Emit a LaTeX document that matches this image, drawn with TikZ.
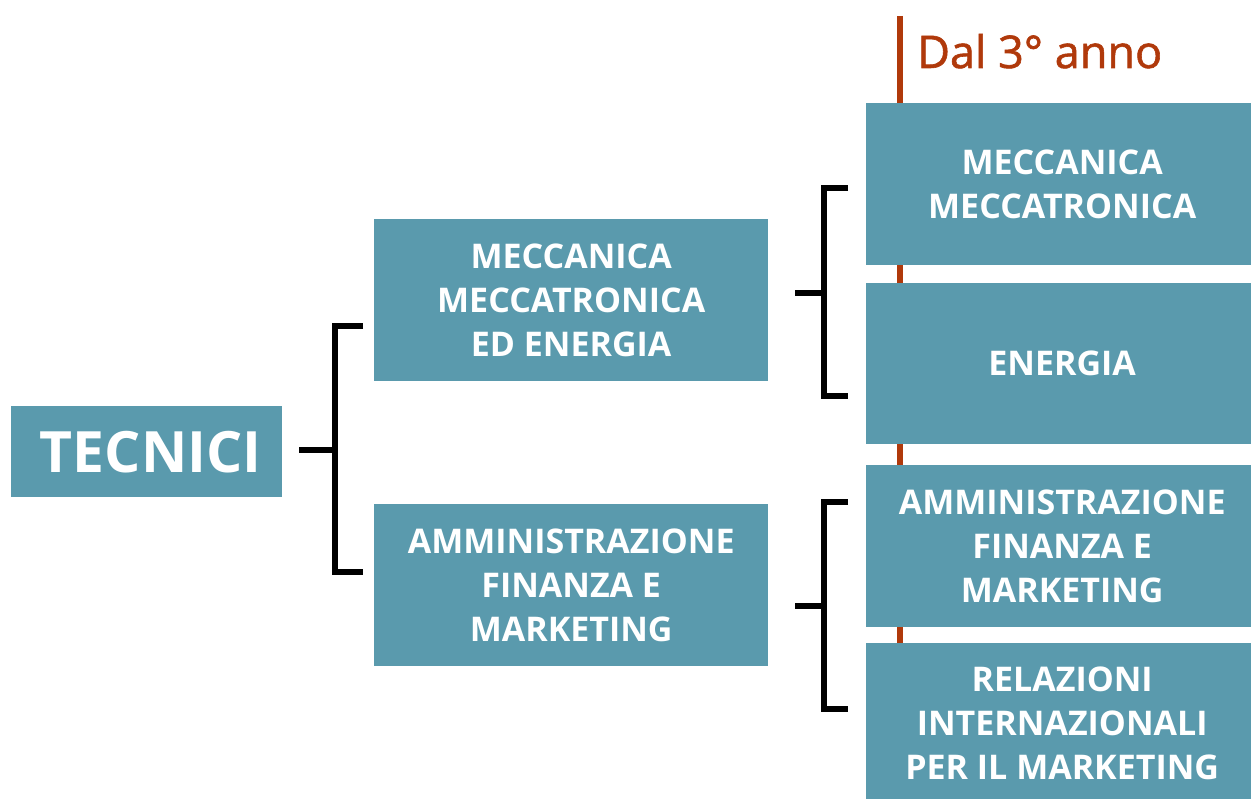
\documentclass[tikz,border=0pt]{standalone}
\usepackage{fontspec}
\setmainfont{Open Sans}
\newfontfamily\dalfont[FakeBold=1.3]{Open Sans}
\usetikzlibrary{calc}
\definecolor{tealbox}{HTML}{5A9AAD}
\definecolor{rust}{HTML}{B0390B}
\begin{document}
\begin{tikzpicture}[x=1pt,y=-1pt,
  box/.style={fill=tealbox, text=white, font=\bfseries\fontsize{34}{44}\selectfont, align=center, inner sep=0pt, anchor=north west},
  brk/.style={line width=6.5pt, black},
  redline/.style={line width=6.5pt, rust}]
\useasboundingbox (0,0) rectangle (1251,799);
% red timeline
\coordinate (rtop) at (900,16);
\coordinate (rbot) at (900,799);
\draw[redline] (rtop) -- (rbot);
\node[anchor=base west, text=rust, font=\dalfont\fontsize{45}{50}\selectfont, inner sep=0pt] (dal) at (917,68) {Dal 3° anno};
% boxes
\node[box, font=\bfseries\fontsize{57}{60}\selectfont, minimum width=271pt, minimum height=91pt] (tec) at (11,406) {\hspace*{8pt}TECNICI};
\node[box, minimum width=394pt, minimum height=162pt] (mme) at (374,219) {MECCANICA\\MECCATRONICA\\ED ENERGIA};
\node[box, minimum width=394pt, minimum height=162pt] (afm) at (374,504) {AMMINISTRAZIONE\\FINANZA E\\MARKETING};
\node[box, minimum width=392pt, minimum height=162pt] (mm) at (866,103) {MECCANICA\\MECCATRONICA};
\node[box, minimum width=392pt, minimum height=161pt] (en) at (866,283) {ENERGIA};
\node[box, minimum width=392pt, minimum height=162pt] (afm2) at (866,465) {AMMINISTRAZIONE\\FINANZA E\\MARKETING};
\node[box, minimum width=392pt, minimum height=160pt] (rim) at (866,643) {RELAZIONI\\INTERNAZIONALI\\PER IL MARKETING};
% brackets
\coordinate (b1) at (335,450);
\coordinate (s1) at ($(tec.east |- b1)+(17,0)$);
\coordinate (b1t) at (335,326);
\coordinate (b1b) at (335,572);
\coordinate (a1t) at ($(b1t -| mme.west)+(-11,0)$);
\coordinate (a1b) at ($(b1b -| mme.west)+(-11,0)$);
\draw[brk] (s1) -- (b1);
\draw[brk] (a1t) -- (b1t) -- (b1b) -- (a1b);
\coordinate (b2) at (824,293);
\coordinate (s2) at ($(mme.east |- b2)+(27,0)$);
\coordinate (a2t) at ($(mm.west |- 0,188)+(-18,0)$);
\coordinate (a2b) at ($(en.west |- 0,396)+(-18,0)$);
\draw[brk] (s2) -- (b2);
\draw[brk] (a2t) -- (a2t -| b2) -- (a2b -| b2) -- (a2b);
\coordinate (b3) at (824,606);
\coordinate (s3) at ($(afm.east |- b3)+(27,0)$);
\coordinate (a3t) at ($(afm2.west |- 0,502)+(-18,0)$);
\coordinate (a3b) at ($(rim.west |- 0,709)+(-18,0)$);
\draw[brk] (s3) -- (b3);
\draw[brk] (a3t) -- (a3t -| b3) -- (a3b -| b3) -- (a3b);
\end{tikzpicture}
\end{document}
